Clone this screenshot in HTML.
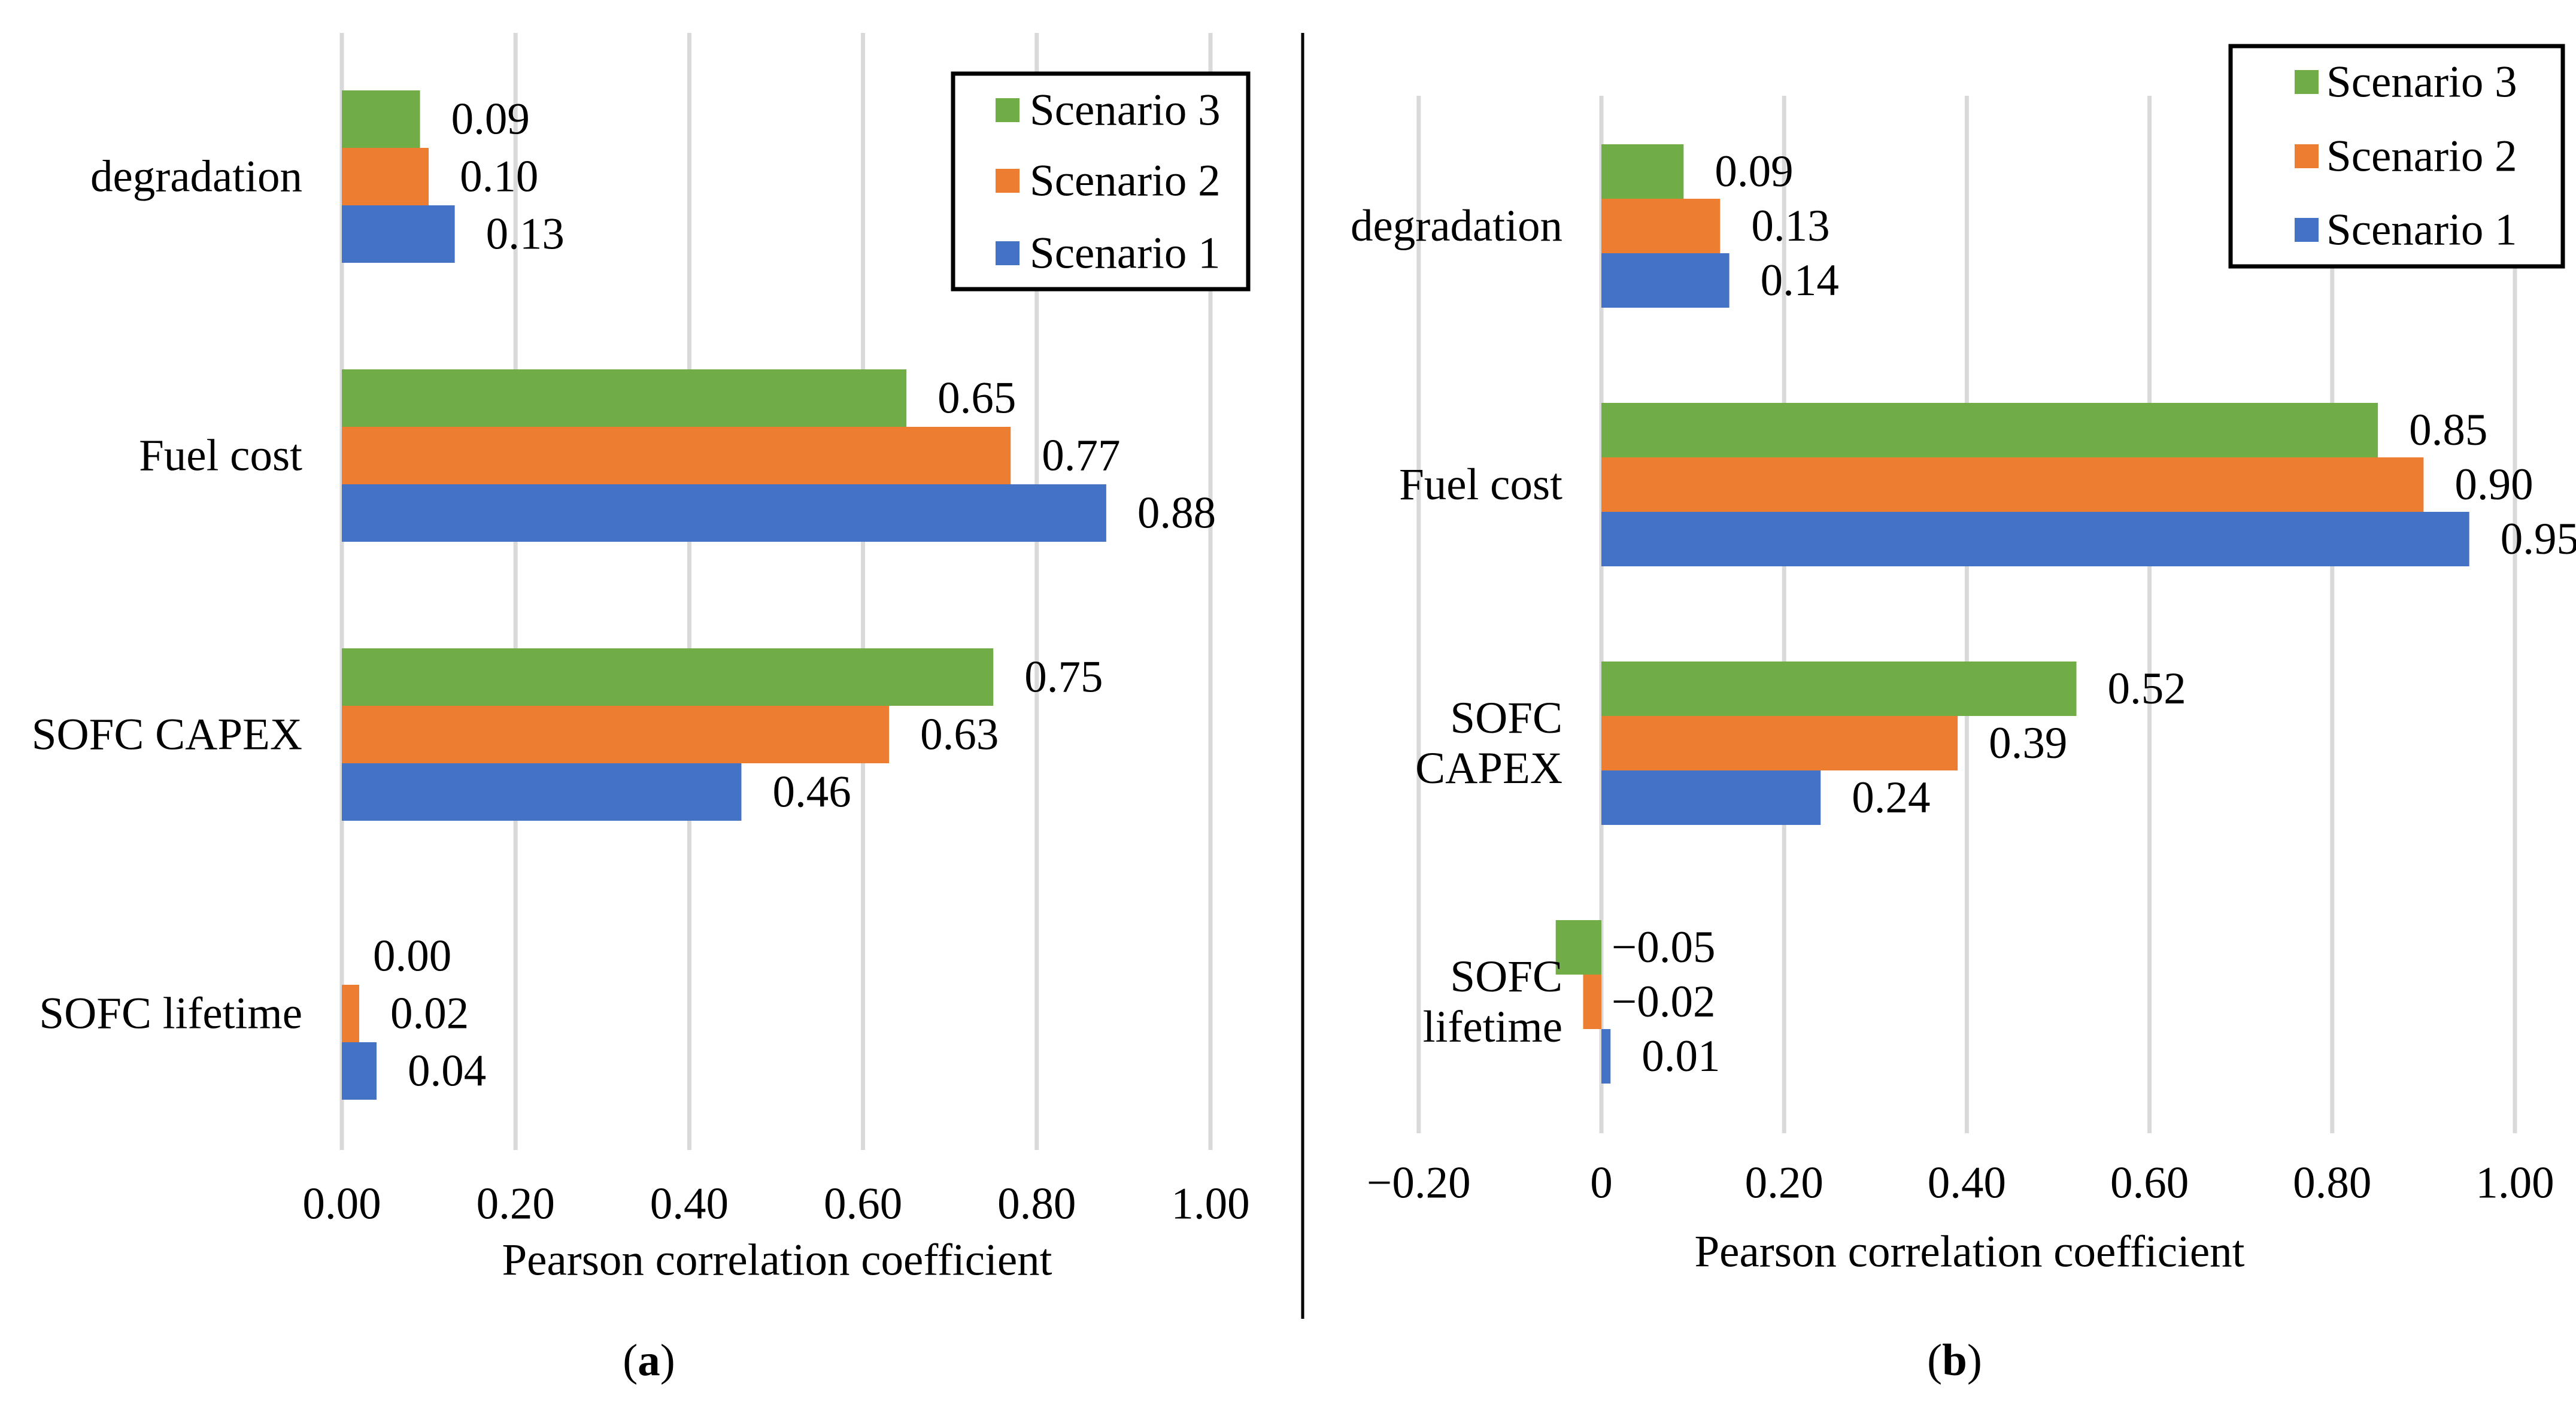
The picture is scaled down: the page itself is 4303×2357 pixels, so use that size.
<!DOCTYPE html>
<html><head><meta charset="utf-8"><style>
html,body{margin:0;padding:0;background:#fff;}
svg{display:block;font-family:"Liberation Serif",serif;}
</style></head><body>
<svg id="fig" width="4303" height="2357" viewBox="0 0 4303 2357" xmlns="http://www.w3.org/2000/svg">
<line x1="2176" y1="55" x2="2176" y2="2203" stroke="#000" stroke-width="5"/>
<g id="pa"></g>
<g id="pb"></g>
</svg>
<script>
const categories = ["degradation","Fuel cost","SOFC CAPEX","SOFC lifetime"];
const seriesNames = ["Scenario 3","Scenario 2","Scenario 1"];
const aScenario3 = [0.09,0.65,0.75,0.00];
const aScenario2 = [0.10,0.77,0.63,0.02];
const aScenario1 = [0.13,0.88,0.46,0.04];
const aTicks = [0,0.2,0.4,0.6,0.8,1.0];
const aTickLabels = ["0.00","0.20","0.40","0.60","0.80","1.00"];
const bScenario3 = [0.09,0.85,0.52,-0.05];
const bScenario2 = [0.13,0.90,0.39,-0.02];
const bScenario1 = [0.14,0.95,0.24,0.01];
const bTicks = [-0.2,0,0.2,0.4,0.6,0.8,1.0];
const bTickLabels = ["\u22120.20","0","0.20","0.40","0.60","0.80","1.00"];
const colors = ["#70AD47","#ED7D31","#4472C4"];
const NS="http://www.w3.org/2000/svg";
function mk(parent,tag,attrs,text){const e=document.createElementNS(NS,tag);for(const k in attrs)e.setAttribute(k,attrs[k]);if(text!==undefined)e.textContent=text;parent.appendChild(e);return e;}
function fmt(v){const s=Math.abs(v).toFixed(2);return v<0?"\u2212"+s:s;}

function drawChart(g,cfg){
  const x=v=>cfg.x0+(v-0)*cfg.unit;
  cfg.ticks.forEach((t,i)=>{
    const gl=mk(g,"line",{x1:x(t),x2:x(t),y1:cfg.gTop,y2:cfg.gBot,stroke:"#d9d9d9","stroke-width":7});
    
    
    const tl=mk(g,"text",{x:x(t),y:cfg.tickY,"text-anchor":"middle","dominant-baseline":"central","font-size":cfg.fs},cfg.tickLabels[i]);
    
    
  });
  const series=cfg.series;
  categories.forEach((c,ci)=>{
    const top=cfg.catTop+ci*cfg.catStep;
    series.forEach((arr,si)=>{
      const v=arr[ci];
      const y=top+si*cfg.barH;
      const x1=Math.min(x(0),x(v)), w=Math.abs(x(v)-x(0));
      const r=mk(g,"rect",{x:x1,y:y,width:w,height:cfg.barH,fill:colors[si]});
      
      
      const lx=v<0?x(0)+17:x(v)+52;
      const t=mk(g,"text",{x:lx,y:y+cfg.barH/2,"dominant-baseline":"central","font-size":cfg.fs},fmt(v));
      
      
    });
    const lines=cfg.catLines[ci];
    const cy=top+cfg.barH*1.5;
    lines.forEach((ln,li)=>{
      const ty=cy+(li-(lines.length-1)/2)*cfg.lineH;
      const t=mk(g,"text",{x:cfg.catX,y:ty,"text-anchor":cfg.catAnchor,"dominant-baseline":"central","font-size":cfg.fs},ln);
      
      
    });
  });
  const at=mk(g,"text",{x:cfg.titleX,y:cfg.titleY,"text-anchor":"middle","dominant-baseline":"central","font-size":cfg.fs},"Pearson correlation coefficient");
  
  
  const lg=mk(g,"g",{});
  
  
  mk(lg,"rect",{x:cfg.lg.x,y:cfg.lg.y,width:cfg.lg.w,height:cfg.lg.h,fill:"#fff",stroke:"#000","stroke-width":7});
  seriesNames.forEach((n,i)=>{
    const ey=cfg.lg.ey[i];
    const sq=mk(lg,"rect",{x:cfg.lg.sx,y:ey-20,width:40,height:40,fill:colors[i]});
    
    
    const t=mk(lg,"text",{x:cfg.lg.tx,y:ey,"dominant-baseline":"central","font-size":cfg.fs},n);
    
    
  });
  const cap=mk(g,"text",{x:cfg.capX,y:cfg.capY,"text-anchor":"middle","dominant-baseline":"central","font-size":cfg.fs});
  
  
  mk(cap,"tspan",{},"(");
  mk(cap,"tspan",{"font-weight":"bold"},cfg.capLetter);
  mk(cap,"tspan",{},")");
}

drawChart(document.getElementById("pa"),{
  x0:571,unit:1451,ticks:aTicks,tickLabels:aTickLabels,gTop:55,gBot:1921,tickY:2011,fs:75,
  series:[aScenario3,aScenario2,aScenario1],catTop:151,catStep:466,barH:96,
  catLines:[["degradation"],["Fuel cost"],["SOFC CAPEX"],["SOFC lifetime"]],catX:505,catAnchor:"end",lineH:84,
  titleX:1298,titleY:2105,
  lg:{x:1592,y:123,w:493,h:360,ey:[184,302,423],sx:1663,tx:1720},
  capX:1084,capY:2272,capLetter:"a"
});
drawChart(document.getElementById("pb"),{
  x0:2675,unit:1526,ticks:bTicks,tickLabels:bTickLabels,gTop:160,gBot:1893,tickY:1976,fs:75,
  series:[bScenario3,bScenario2,bScenario1],catTop:241,catStep:432,barH:91,
  catLines:[["degradation"],["Fuel cost"],["SOFC","CAPEX"],["SOFC","lifetime"]],catX:2610,catAnchor:"end",lineH:84,
  titleX:3290,titleY:2091,
  lg:{x:3726,y:77,w:555,h:368,ey:[137,261,384],sx:3833,tx:3886},
  capX:3265,capY:2272,capLetter:"b"
});
</script>
</body></html>
